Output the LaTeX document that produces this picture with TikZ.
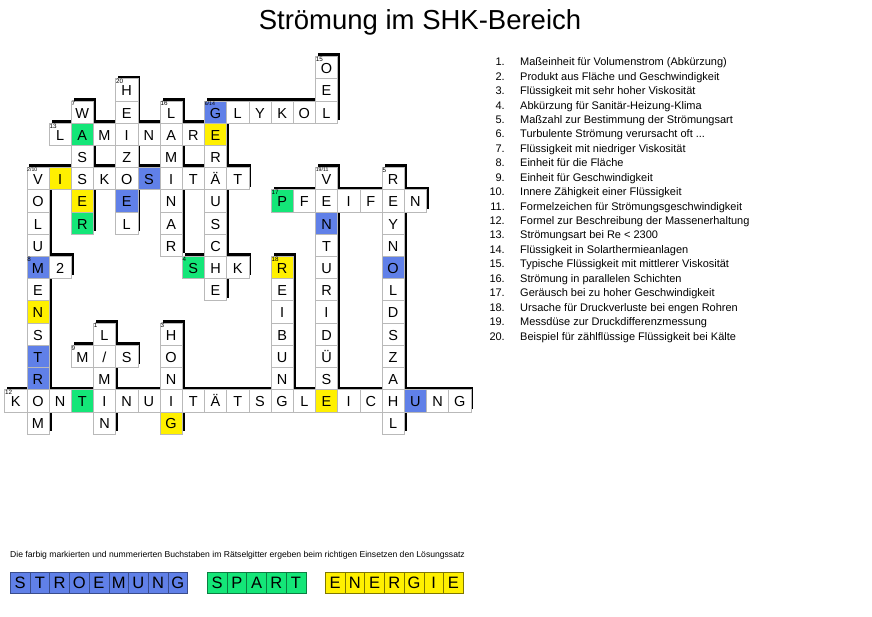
\documentclass[tikz,border=0pt]{standalone}
\usepackage{fontspec}
\setmainfont{Liberation Sans}
\definecolor{cblue}{RGB}{96,128,232}
\definecolor{cgreen}{RGB}{20,230,120}
\definecolor{cyellow}{RGB}{255,240,0}
\newcommand\slashch{/}
\newcommand\cellsize{22.2}
\def\celllist{14/0/O/white, 5/1/H/white, 14/1/E/white,
3/2/W/white, 5/2/E/white, 7/2/L/white, 9/2/G/cblue, 10/2/L/white, 11/2/Y/white, 12/2/K/white, 13/2/O/white, 14/2/L/white,
2/3/L/white, 3/3/A/cgreen, 4/3/M/white, 5/3/I/white, 6/3/N/white, 7/3/A/white, 8/3/R/white, 9/3/E/cyellow,
3/4/S/white, 5/4/Z/white, 7/4/M/white, 9/4/R/white,
1/5/V/white, 2/5/I/cyellow, 3/5/S/white, 4/5/K/white, 5/5/O/white, 6/5/S/cblue, 7/5/I/white, 8/5/T/white, 9/5/Ä/white, 10/5/T/white, 14/5/V/white, 17/5/R/white,
1/6/O/white, 3/6/E/cyellow, 5/6/E/cblue, 7/6/N/white, 9/6/U/white, 12/6/P/cgreen, 13/6/F/white, 14/6/E/white, 15/6/I/white, 16/6/F/white, 17/6/E/white, 18/6/N/white,
1/7/L/white, 3/7/R/cgreen, 5/7/L/white, 7/7/A/white, 9/7/S/white, 14/7/N/cblue, 17/7/Y/white,
1/8/U/white, 7/8/R/white, 9/8/C/white, 14/8/T/white, 17/8/N/white,
1/9/M/cblue, 2/9/2/white, 8/9/S/cgreen, 9/9/H/white, 10/9/K/white, 12/9/R/cyellow, 14/9/U/white, 17/9/O/cblue,
1/10/E/white, 9/10/E/white, 12/10/E/white, 14/10/R/white, 17/10/L/white,
1/11/N/cyellow, 12/11/I/white, 14/11/I/white, 17/11/D/white,
1/12/S/white, 4/12/L/white, 7/12/H/white, 12/12/B/white, 14/12/D/white, 17/12/S/white,
1/13/T/cblue, 3/13/M/white, 4/13/\slashch/white, 5/13/S/white, 7/13/O/white, 12/13/U/white, 14/13/Ü/white, 17/13/Z/white,
1/14/R/cblue, 4/14/M/white, 7/14/N/white, 12/14/N/white, 14/14/S/white, 17/14/A/white,
0/15/K/white, 1/15/O/white, 2/15/N/white, 3/15/T/cgreen, 4/15/I/white, 5/15/N/white, 6/15/U/white, 7/15/I/white, 8/15/T/white, 9/15/Ä/white, 10/15/T/white, 11/15/S/white, 12/15/G/white, 13/15/L/white, 14/15/E/cyellow, 15/15/I/white, 16/15/C/white, 17/15/H/white, 18/15/U/cblue, 19/15/N/white, 20/15/G/white,
1/16/M/white, 4/16/N/white, 7/16/G/cyellow, 17/16/L/white}
\begin{document}
\begin{tikzpicture}[x=1pt,y=-1pt,
  cellbox/.style={draw=gray!55, line width=0.6pt, minimum width=\cellsize pt, minimum height=\cellsize pt,
    inner sep=0pt, text height=12pt, text depth=0pt, anchor=north west, font=\fontsize{14.5}{14.5}\selectfont},
  cellnum/.style={anchor=north west, inner sep=0.6pt, font=\fontsize{6.3}{6.3}\selectfont},
  cellnumsm/.style={anchor=north west, inner sep=0.5pt, font=\fontsize{5.2}{5.2}\selectfont},
  cluenum/.style={anchor=base east, inner sep=0pt, font=\fontsize{11}{11}\selectfont},
  cluetext/.style={anchor=base west, inner sep=0pt, font=\fontsize{11}{11}\selectfont},
  solbox/.style={line width=0.6pt, minimum width=19.7pt, minimum height=20.5pt, inner sep=0pt,
    anchor=north west, font=\fontsize{16.5}{16.5}\selectfont}]
\useasboundingbox[fill=white] (0,0) rectangle (872,617);
% title
\node[anchor=base, inner sep=0pt, font=\fontsize{27.5}{27.5}\selectfont] (title) at (420,30) {Strömung im SHK-Bereich};
% shadows
\foreach \c/\r/\l/\f in \celllist {
  \fill[black] ({4.3+\cellsize*\c+2.8},{56.3+\cellsize*\r-2.8}) rectangle ++(\cellsize,\cellsize);
}
% cells
\foreach \c/\r/\l/\f in \celllist {
  \node[cellbox, fill=\f] (c\c-\r) at ({4.3+\cellsize*\c},{56.3+\cellsize*\r}) {\l};
}
% numbers
\foreach \c/\r/\n in {14/0/15, 5/1/20, 3/2/7, 7/2/16, 2/3/13, 17/5/5,
  12/6/17, 1/9/8, 8/9/4, 12/9/18, 4/12/1, 7/12/3, 3/13/9, 0/15/12} {
  \node[cellnum] (n\c-\r) at (c\c-\r.north west) {\n};
}
\foreach \c/\r/\n in {9/2/{6/14}, 1/5/{2/10}, 14/5/{19/11}} {
  \node[cellnumsm] (n\c-\r) at (c\c-\r.north west) {\n};
}
% clues
\foreach \i/\t in {1/{Maßeinheit für Volumenstrom (Abkürzung)}, 2/{Produkt aus Fläche und Geschwindigkeit},
  3/{Flüssigkeit mit sehr hoher Viskosität}, 4/{Abkürzung für Sanitär-Heizung-Klima},
  5/{Maßzahl zur Bestimmung der Strömungsart}, 6/{Turbulente Strömung verursacht oft ...},
  7/{Flüssigkeit mit niedriger Viskosität}, 8/{Einheit für die Fläche}, 9/{Einheit für Geschwindigkeit},
  10/{Innere Zähigkeit einer Flüssigkeit}, 11/{Formelzeichen für Strömungsgeschwindigkeit},
  12/{Formel zur Beschreibung der Massenerhaltung}, 13/{Strömungsart bei Re < 2300},
  14/{Flüssigkeit in Solarthermieanlagen}, 15/{Typische Flüssigkeit mit mittlerer Viskosität},
  16/{Strömung in parallelen Schichten}, 17/{Geräusch bei zu hoher Geschwindigkeit},
  18/{Ursache für Druckverluste bei engen Rohren}, 19/{Messdüse zur Druckdifferenzmessung},
  20/{Beispiel für zählflüssige Flüssigkeit bei Kälte}} {
  \node[cluenum] (k\i) at (505,{65.7+14.44*(\i-1)}) {\i.};
  \node[cluetext] (t\i) at (520,{65.7+14.44*(\i-1)}) {\t};
}
% footnote
\node[anchor=base west, inner sep=0pt, font=\fontsize{8.6}{8.6}\selectfont] (foot) at (10,557.7)
  {Die farbig markierten und nummerierten Buchstaben im Rätselgitter ergeben beim richtigen Einsetzen den Lösungssatz};
% solution
\foreach \l [count=\i] in {S,T,R,O,E,M,U,N,G}
  \node[solbox, fill=cblue, draw=cblue!60!black] (sa\i) at ({10+19.7*(\i-1)},572) {\l};
\foreach \l [count=\i] in {S,P,A,R,T}
  \node[solbox, fill=cgreen, draw=cgreen!55!black] (sb\i) at ({207+19.7*(\i-1)},572) {\l};
\foreach \l [count=\i] in {E,N,E,R,G,I,E}
  \node[solbox, fill=cyellow, draw=cyellow!50!black] (sc\i) at ({325+19.7*(\i-1)},572) {\l};
\end{tikzpicture}
\end{document}
